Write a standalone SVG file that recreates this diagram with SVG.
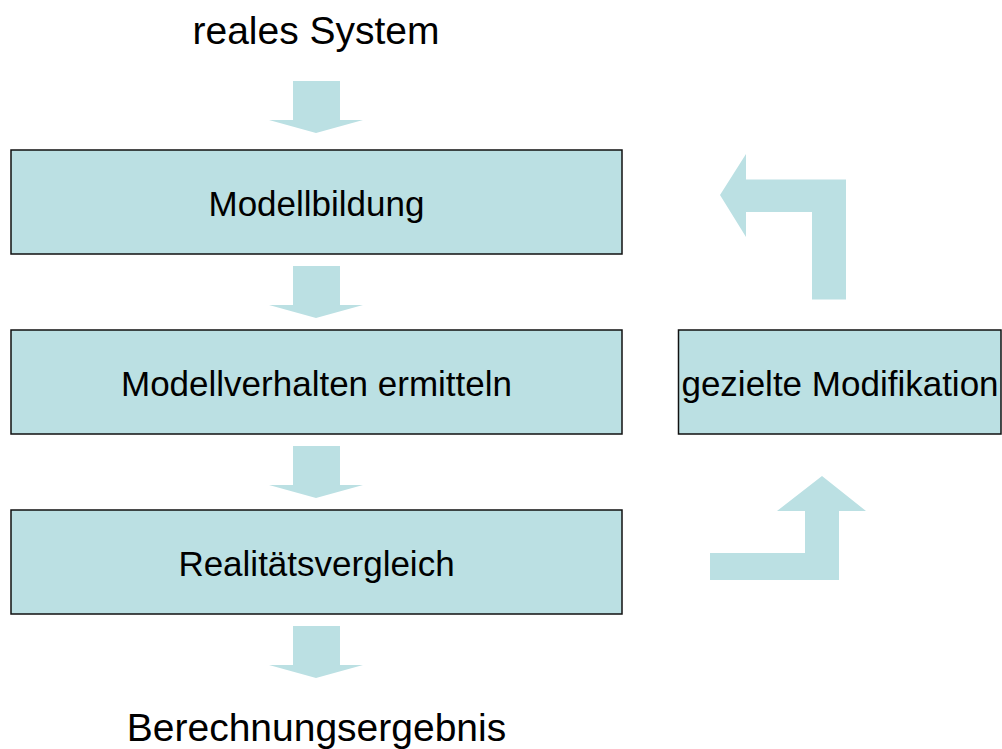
<svg xmlns="http://www.w3.org/2000/svg" width="1002" height="749" viewBox="0 0 1002 749">
<style>
.box{fill:#BBE0E3;stroke:#111;stroke-width:1.5}
.arr{fill:#BBE0E3;stroke:none}
.t{font-family:"Liberation Sans",Arial,sans-serif;fill:#000;text-anchor:middle}
.big{font-size:39px}
.mid{font-size:35px}
</style>
<rect width="1002" height="749" fill="#fff"/>
<g id="reales-system"><text class="t big" x="316" y="44">reales System</text></g>
<g id="modellbildung"><rect class="box" x="11" y="150" width="611" height="104"/><text class="t mid" x="316.5" y="216">Modellbildung</text></g>
<g id="modellverhalten"><rect class="box" x="11" y="330" width="611" height="104"/><text class="t mid" x="316.5" y="396">Modellverhalten ermitteln</text></g>
<g id="realitaetsvergleich"><rect class="box" x="11" y="510" width="611" height="104"/><text class="t mid" x="316.5" y="576">Realitätsvergleich</text></g>
<g id="modifikation"><rect class="box" x="678.5" y="330" width="322.5" height="104"/><text class="t mid" x="840" y="396">gezielte Modifikation</text></g>
<g id="berechnungsergebnis"><text class="t big" x="316.5" y="741">Berechnungsergebnis</text></g>
<g id="connectors">
<polygon class="arr" points="293,81 340,81 340,120 363,120 316,133 269,120 293,120"/>
<polygon class="arr" points="293,266 340,266 340,305 363,305 316,318 269,305 293,305"/>
<polygon class="arr" points="293,446 340,446 340,485 363,485 316,498 269,485 293,485"/>
<polygon class="arr" points="293,626 340,626 340,665 363,665 316,678 269,665 293,665"/>
<polygon class="arr" points="720,195 746,154 746,179.5 846,179.5 846,299.5 812,299.5 812,212 746,212 746,237"/>
<polygon class="arr" points="710,580 839,580 839,511 866,511 822,476 777,511 805,511 805,553 710,553"/>
</g>
</svg>
